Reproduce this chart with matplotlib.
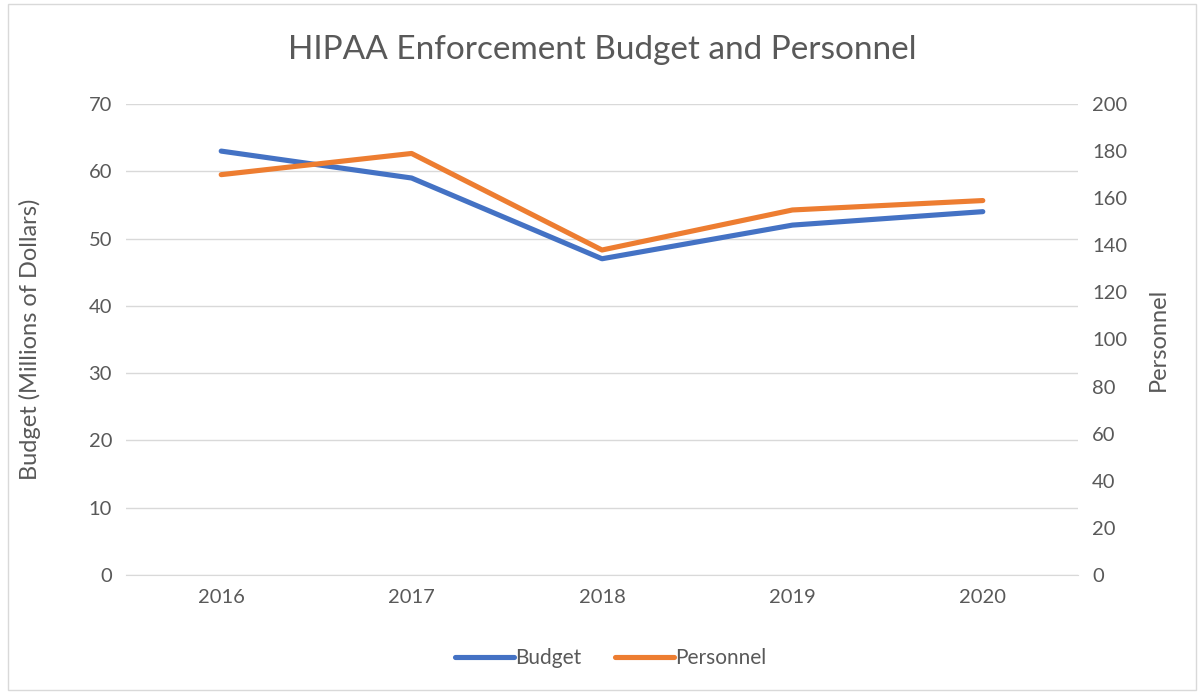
import matplotlib
matplotlib.use("Agg")
import matplotlib.pyplot as plt
from matplotlib.patches import Rectangle

years = ["2016", "2017", "2018", "2019", "2020"]
budget = [63, 59, 47, 52, 54]
personnel = [170, 179, 138, 155, 159]

plt.rcParams['font.family'] = ['Lato', 'DejaVu Sans']
txt = '#595959'

fig = plt.figure(figsize=(12.04, 6.93), dpi=100)
ax = fig.add_axes([126/1204, 1-575/693, (1078-126)/1204, (575-104)/693])
ax2 = ax.twinx()

x = list(range(len(years)))
l1, = ax.plot(x, budget, color='#4472C4', lw=3.7, solid_capstyle='round', solid_joinstyle='round', label='Budget', zorder=3)
l2, = ax2.plot(x, personnel, color='#ED7D31', lw=3.7, solid_capstyle='round', solid_joinstyle='round', label='Personnel', zorder=3)

ax.set_xlim(-0.5, 4.5)
ax.set_ylim(0, 70)
ax2.set_ylim(0, 200)
ax.set_yticks(range(0, 71, 10))
ax2.set_yticks(range(0, 201, 20))
ax.set_xticks(x)
ax.set_xticklabels(years)
ax.grid(axis='y', color='#D9D9D9', lw=1)
ax.set_axisbelow(True)

for a in (ax, ax2):
    for s in a.spines.values():
        s.set_visible(False)
    a.tick_params(length=0, colors=txt, labelsize=14.5)
ax.spines['bottom'].set_visible(True)
ax.spines['bottom'].set_color('#D9D9D9')
ax.tick_params(axis='x', pad=10)
ax.tick_params(axis='y', pad=10)
ax2.tick_params(axis='y', pad=10)

ax.set_ylabel('Budget (Millions of Dollars)', color=txt, fontsize=17, labelpad=34)
ax2.set_ylabel('Personnel', color=txt, fontsize=17, labelpad=15)

fig.text(0.5, 1-50/693, 'HIPAA Enforcement Budget and Personnel', ha='center', va='center', color=txt, fontsize=24)

fig.legend(handles=[l1, l2], loc='center', bbox_to_anchor=(611/1204, 1-658/693), ncol=2, frameon=False,
           fontsize=15, labelcolor=txt, handlelength=2.8, handletextpad=0.1, columnspacing=1.6)

fig.patches.append(Rectangle((8/1204, 3/693), 1188/1204, 686/693, transform=fig.transFigure,
                             fill=False, edgecolor='#D9D9D9', lw=1))

fig.savefig('out.png', dpi=100)
